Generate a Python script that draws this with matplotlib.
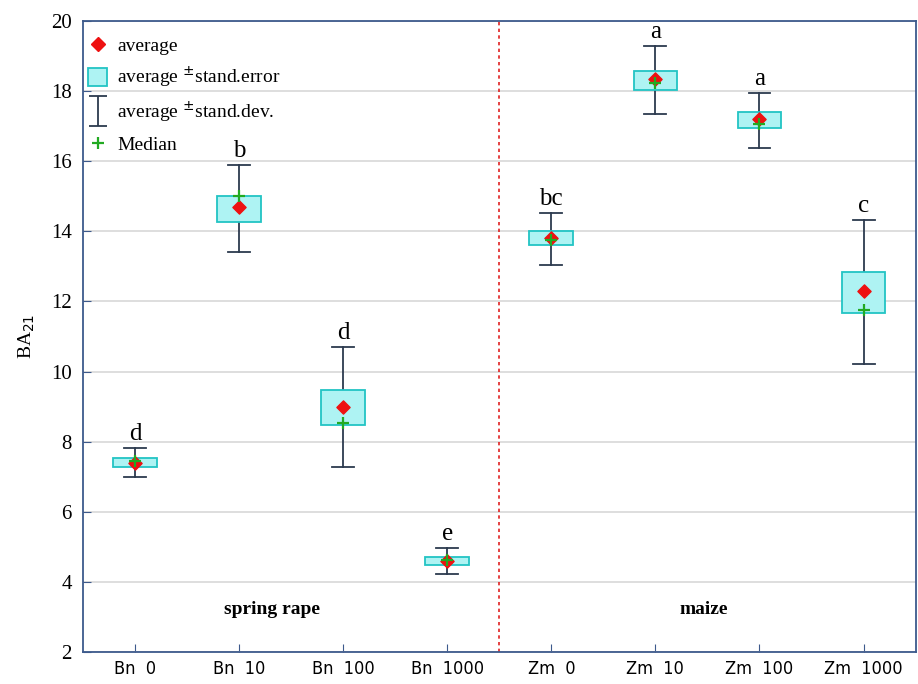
import matplotlib

matplotlib.use("Agg")
import matplotlib.pyplot as plt
from matplotlib.lines import Line2D
from matplotlib.patches import Patch, Rectangle
from matplotlib.path import Path

# groups and their summary statistics (BA21)
groups = ["Bn  0", "Bn  10", "Bn  100", "Bn  1000", "Zm  0", "Zm  10", "Zm  100", "Zm  1000"]
means = [7.40, 14.68, 9.00, 4.60, 13.80, 18.35, 17.20, 12.30]
se_low = [7.28, 14.28, 8.48, 4.48, 13.60, 18.02, 16.95, 11.68]
se_high = [7.52, 15.00, 9.48, 4.70, 14.00, 18.58, 17.40, 12.85]
sd_low = [6.98, 13.40, 7.28, 4.22, 13.05, 17.35, 16.38, 10.22]
sd_high = [7.82, 15.90, 10.70, 4.98, 14.52, 19.28, 17.95, 14.32]
medians = [7.45, 15.00, 8.52, 4.62, 13.75, 18.22, 17.05, 11.75]
letters = ["d", "b", "d", "e", "bc", "a", "a", "c"]

BOX_FACE = "#aef3f3"
BOX_EDGE = "#22c4c4"
WHISK = "#2c3a4e"
FRAME = "#3d5a8c"
SERIF = "Liberation Serif"

fig = plt.figure(figsize=(9.18, 6.84), dpi=100)
ax = fig.add_axes([0.0904, 0.0468, 0.907, 0.9225])

box_w = 0.42
cap_w = 0.21
for i in range(len(groups)):
    # whisker = mean ± SD
    ax.plot([i, i], [sd_low[i], sd_high[i]], color=WHISK, lw=1.3, zorder=2)
    ax.plot([i - cap_w / 2, i + cap_w / 2], [sd_low[i]] * 2, color=WHISK, lw=1.3, zorder=2)
    ax.plot([i - cap_w / 2, i + cap_w / 2], [sd_high[i]] * 2, color=WHISK, lw=1.3, zorder=2)
    # box = mean ± SE
    ax.add_patch(Rectangle((i - box_w / 2, se_low[i]), box_w, se_high[i] - se_low[i],
                           facecolor=BOX_FACE, edgecolor=BOX_EDGE, lw=1.3, zorder=3))
    ax.text(i, sd_high[i] + 0.08, letters[i], ha="center", va="bottom",
            fontsize=18, family=SERIF)

ax.scatter(range(len(groups)), means, marker="D", s=45, color="#ee1111", zorder=5)
ax.scatter(range(len(groups)), medians, marker="+", s=80, color="#22aa22", linewidths=1.6, zorder=6)

ax.axvline(3.5, color="#e02020", ls=(0, (2, 2)), lw=1.2, zorder=1)
ax.text(1.32, 3.2, "spring rape", ha="center", va="center", fontsize=14,
        fontweight="bold", family=SERIF)
ax.text(5.46, 3.2, "maize", ha="center", va="center", fontsize=14,
        fontweight="bold", family=SERIF)

ax.set_xlim(-0.5, 7.5)
ax.set_ylim(2, 20)
ax.set_yticks(range(2, 21, 2))
ax.set_xticks(range(len(groups)))
ax.set_xticklabels(groups, family="DejaVu Sans", fontstretch="condensed", fontsize=13)
for lab in ax.get_yticklabels():
    lab.set_family(SERIF)
    lab.set_fontsize(15)
ax.tick_params(axis="x", direction="in", length=6, color=FRAME, pad=6)
ax.tick_params(axis="y", direction="in", length=6, color=FRAME, pad=8)
ax.yaxis.grid(True, color="#d8d8d8", lw=1.2)
ax.set_axisbelow(True)
for s in ax.spines.values():
    s.set_color(FRAME)
    s.set_linewidth(1.3)

ax.set_ylabel("BA$_{21}$", family=SERIF, fontsize=14, labelpad=10)

# legend: I-shaped marker for the SD whisker
ibar = Path([(-0.6, -1), (0.6, -1), (0, -1), (0, 1), (-0.6, 1), (0.6, 1)],
            [Path.MOVETO, Path.LINETO, Path.MOVETO, Path.LINETO, Path.MOVETO, Path.LINETO])
handles = [
    Line2D([], [], marker="D", color="#ee1111", ls="none", markersize=7),
    Patch(facecolor=BOX_FACE, edgecolor=BOX_EDGE, lw=1.3),
    Line2D([], [], marker=ibar, color=WHISK, ls="none", markersize=22, markeredgewidth=1.3),
    Line2D([], [], marker="+", color="#22aa22", ls="none", markersize=9, markeredgewidth=1.6),
]
labels = ["average", "average $^{\\pm}$stand.error", "average $^{\\pm}$stand.dev.", "Median"]
ax.legend(handles, labels, loc="upper left", frameon=False, prop={"family": SERIF, "size": 14},
          handlelength=1.0, handleheight=1.0, handletextpad=0.5, labelspacing=0.5,
          borderaxespad=0.2, bbox_to_anchor=(-0.008, 0.995))

fig.savefig("out.png", dpi=100)
